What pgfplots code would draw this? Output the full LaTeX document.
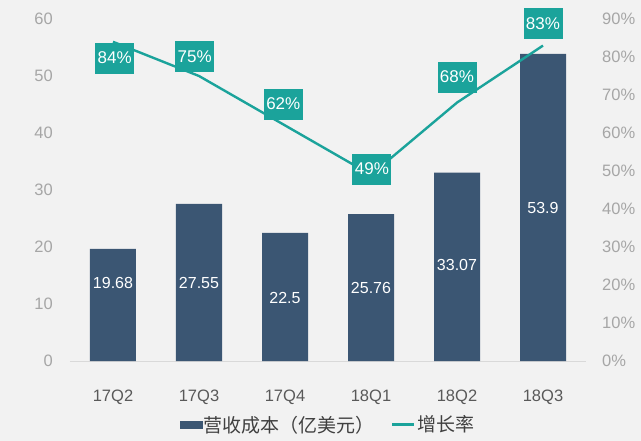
\documentclass[border=0pt]{standalone}
\usepackage{pgfplots}
\usepackage{pgfplotstable}
\pgfplotsset{compat=1.18}
\usepackage{fontspec}
\setmainfont{Liberation Sans}
\newfontfamily\cjk{Noto Sans CJK SC}
\definecolor{barcol}{HTML}{3B5673}
\definecolor{linecol}{HTML}{1BA39B}
\definecolor{bgcol}{HTML}{F2F2F2}
\definecolor{ylab}{HTML}{A6A6A6}
\definecolor{xlab}{HTML}{595959}
\definecolor{legtext}{HTML}{404040}
\definecolor{axline}{HTML}{D9D9D9}

\pgfplotstableread{
x y
0 19.68
1 27.55
2 22.5
3 25.76
4 33.07
5 53.9
}\bars
\pgfplotstableread{
x y label
0 13.7 19.68
1 13.7 27.55
2 11.0 22.5
3 12.8 25.76
4 16.8 33.07
5 26.8 53.9
}\barlabels
\pgfplotstableread{
x y
0 84
1 75
2 62
3 49
4 68
5 83
}\growth
\pgfplotstableread{
x y label
0.02 79.7 84
0.95 80.0 75
1.98 67.6 62
3.01 50.5 49
4.0 74.7 68
5.0 88.9 83
}\glabels

\begin{document}
\begin{tikzpicture}
\fill[bgcol] (-70bp,-80bp) rectangle (571bp,361bp);
\begin{axis}[
  scale only axis, width=516bp, height=342bp,
  xmin=-0.5, xmax=5.5, ymin=0, ymax=60,
  axis line style={draw=none}, major tick length=0pt,
  xtick={0,...,5}, xticklabels={17Q2,17Q3,17Q4,18Q1,18Q2,18Q3},
  ytick={0,10,...,60},
  /pgf/number format/assume math mode=true,
  xticklabel style={font=\fontsize{16.5bp}{18bp}\selectfont, text=xlab, anchor=center, inner sep=0pt, yshift=-36bp},
  yticklabel style={font=\fontsize{16.5bp}{18bp}\selectfont, text=ylab, anchor=east, inner sep=0pt, xshift=-17bp},
  clip=false,
]
\draw[axline, line width=1bp] (axis cs:-0.5,0) -- (axis cs:5.5,0);
\addplot[ybar, bar width=46bp, fill=barcol, draw=none] table[x=x,y=y]{\bars};
\addplot[draw=none, mark=none, nodes near coords, point meta=explicit symbolic,
  nodes near coords style={anchor=center, text=white, font=\fontsize{16bp}{18bp}\selectfont}]
  table[x=x,y=y,meta=label]{\barlabels};
\end{axis}
\begin{axis}[
  scale only axis, width=516bp, height=342bp,
  xmin=-0.5, xmax=5.5, ymin=0, ymax=90,
  axis line style={draw=none}, major tick length=0pt,
  hide x axis, axis y line*=right,
  ytick={0,10,...,90},
  /pgf/number format/assume math mode=true,
  yticklabel={\pgfmathprintnumber{\tick}\%},
  yticklabel style={font=\fontsize{16.5bp}{18bp}\selectfont, text=ylab, anchor=west, inner sep=0pt, xshift=16bp},
  legend columns=2,
  legend style={at={(0.5,-0.186)}, anchor=center, draw=none, fill=none,
    font=\fontsize{19bp}{21bp}\selectfont, text=legtext,
    /tikz/every even column/.append style={column sep=14bp}},
  clip=false,
]
\addlegendimage{legend image code/.code={\fill[barcol] (0bp,-3.5bp) rectangle (22bp,3.5bp);}}
\addlegendentry{\cjk 营收成本（亿美元）}
\addplot[linecol, line width=2.4bp, legend image code/.code={\draw[linecol,line width=2.5bp] (0bp,0bp) -- (22bp,0bp);}] table[x=x,y=y]{\growth};
\addlegendentry{\cjk 增长率}
\addplot[forget plot, draw=none, mark=none, nodes near coords={\pgfplotspointmeta\%}, point meta=explicit symbolic,
  nodes near coords style={anchor=center, fill=linecol, text=white, minimum width=39bp, minimum height=31bp, inner sep=0pt, font=\fontsize{17bp}{19bp}\selectfont}]
  table[x=x,y=y,meta=label]{\glabels};
\end{axis}
\end{tikzpicture}
\end{document}
